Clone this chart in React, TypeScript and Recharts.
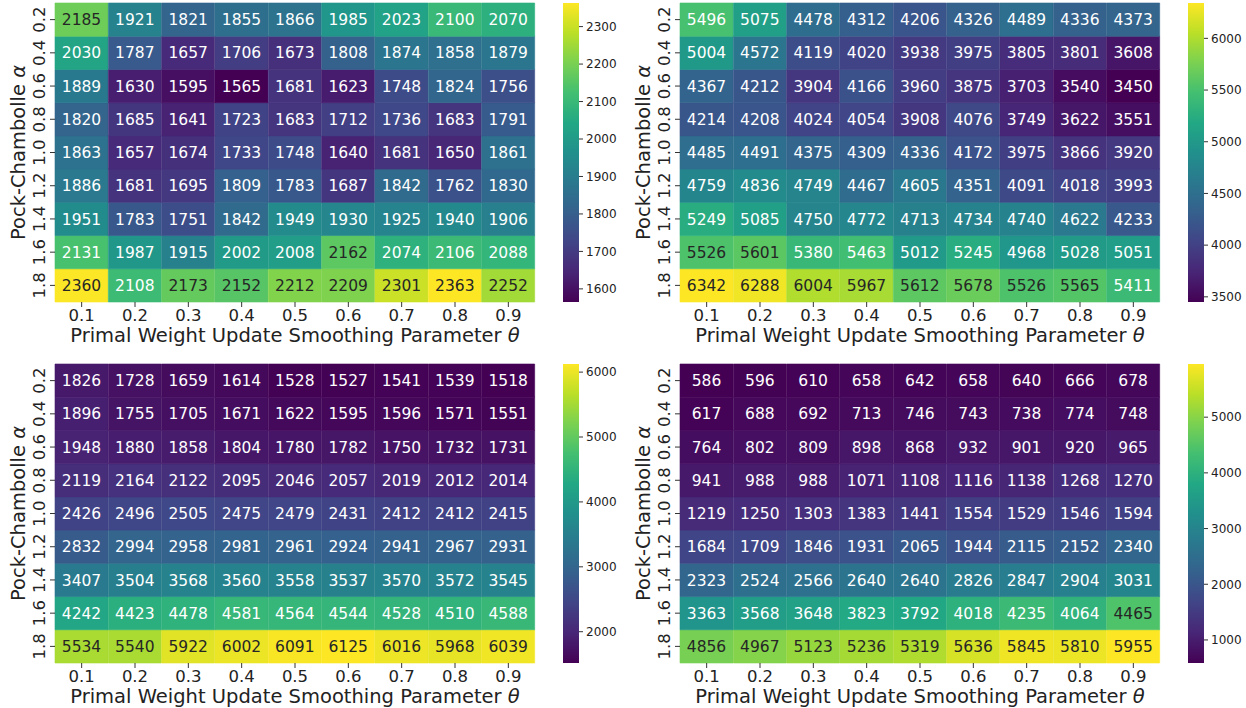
import { BarChart, Bar, XAxis, YAxis, Cell, LabelList, Label } from 'recharts';

// axis categories
const THETA = ['0.1', '0.2', '0.3', '0.4', '0.5', '0.6', '0.7', '0.8', '0.9'];
const ALPHA = ['0.2', '0.4', '0.6', '0.8', '1.0', '1.2', '1.4', '1.6', '1.8'];

// rows = alpha (0.2 .. 1.8), columns = theta (0.1 .. 0.9)
const TOP_LEFT = [
  [2185, 1921, 1821, 1855, 1866, 1985, 2023, 2100, 2070],
  [2030, 1787, 1657, 1706, 1673, 1808, 1874, 1858, 1879],
  [1889, 1630, 1595, 1565, 1681, 1623, 1748, 1824, 1756],
  [1820, 1685, 1641, 1723, 1683, 1712, 1736, 1683, 1791],
  [1863, 1657, 1674, 1733, 1748, 1640, 1681, 1650, 1861],
  [1886, 1681, 1695, 1809, 1783, 1687, 1842, 1762, 1830],
  [1951, 1783, 1751, 1842, 1949, 1930, 1925, 1940, 1906],
  [2131, 1987, 1915, 2002, 2008, 2162, 2074, 2106, 2088],
  [2360, 2108, 2173, 2152, 2212, 2209, 2301, 2363, 2252],
];

const TOP_RIGHT = [
  [5496, 5075, 4478, 4312, 4206, 4326, 4489, 4336, 4373],
  [5004, 4572, 4119, 4020, 3938, 3975, 3805, 3801, 3608],
  [4367, 4212, 3904, 4166, 3960, 3875, 3703, 3540, 3450],
  [4214, 4208, 4024, 4054, 3908, 4076, 3749, 3622, 3551],
  [4485, 4491, 4375, 4309, 4336, 4172, 3975, 3866, 3920],
  [4759, 4836, 4749, 4467, 4605, 4351, 4091, 4018, 3993],
  [5249, 5085, 4750, 4772, 4713, 4734, 4740, 4622, 4233],
  [5526, 5601, 5380, 5463, 5012, 5245, 4968, 5028, 5051],
  [6342, 6288, 6004, 5967, 5612, 5678, 5526, 5565, 5411],
];

const BOTTOM_LEFT = [
  [1826, 1728, 1659, 1614, 1528, 1527, 1541, 1539, 1518],
  [1896, 1755, 1705, 1671, 1622, 1595, 1596, 1571, 1551],
  [1948, 1880, 1858, 1804, 1780, 1782, 1750, 1732, 1731],
  [2119, 2164, 2122, 2095, 2046, 2057, 2019, 2012, 2014],
  [2426, 2496, 2505, 2475, 2479, 2431, 2412, 2412, 2415],
  [2832, 2994, 2958, 2981, 2961, 2924, 2941, 2967, 2931],
  [3407, 3504, 3568, 3560, 3558, 3537, 3570, 3572, 3545],
  [4242, 4423, 4478, 4581, 4564, 4544, 4528, 4510, 4588],
  [5534, 5540, 5922, 6002, 6091, 6125, 6016, 5968, 6039],
];

const BOTTOM_RIGHT = [
  [586, 596, 610, 658, 642, 658, 640, 666, 678],
  [617, 688, 692, 713, 746, 743, 738, 774, 748],
  [764, 802, 809, 898, 868, 932, 901, 920, 965],
  [941, 988, 988, 1071, 1108, 1116, 1138, 1268, 1270],
  [1219, 1250, 1303, 1383, 1441, 1554, 1529, 1546, 1594],
  [1684, 1709, 1846, 1931, 2065, 1944, 2115, 2152, 2340],
  [2323, 2524, 2566, 2640, 2640, 2826, 2847, 2904, 3031],
  [3363, 3568, 3648, 3823, 3792, 4018, 4235, 4064, 4465],
  [4856, 4967, 5123, 5236, 5319, 5636, 5845, 5810, 5955],
];

// colorbar tick labels
const TL_TICKS = [1600, 1700, 1800, 1900, 2000, 2100, 2200, 2300];
const TR_TICKS = [3500, 4000, 4500, 5000, 5500, 6000];
const BL_TICKS = [2000, 3000, 4000, 5000, 6000];
const BR_TICKS = [1000, 2000, 3000, 4000, 5000];

const FONT = '"DejaVu Sans", sans-serif';
const INK = '#222';

// viridis, 11 evenly spaced stops
const VIRIDIS = [
  '#440154', '#482576', '#414487', '#35608d', '#2a788e', '#21908c',
  '#22a884', '#43bf71', '#7ad151', '#bbdf27', '#fde725',
];

function hexToRgb(h: string): number[] {
  return [1, 3, 5].map(i => parseInt(h.slice(i, i + 2), 16));
}

function viridis(t: number): number[] {
  const c = Math.max(0, Math.min(1, t)) * (VIRIDIS.length - 1);
  const i = Math.min(Math.floor(c), VIRIDIS.length - 2);
  const f = c - i;
  const a = hexToRgb(VIRIDIS[i]);
  const b = hexToRgb(VIRIDIS[i + 1]);
  return a.map((v, k) => Math.round(v + (b[k] - v) * f));
}

function rgbStr(c: number[]) {
  return `rgb(${c[0]},${c[1]},${c[2]})`;
}

// seaborn picks dark text on light cells
function textColor(c: number[]) {
  const lin = c.map(v => {
    const s = v / 255;
    return s <= 0.03928 ? s / 12.92 : Math.pow((s + 0.055) / 1.055, 2.4);
  });
  const lum = 0.2126 * lin[0] + 0.7152 * lin[1] + 0.0722 * lin[2];
  return lum > 0.408 ? '#262626' : '#ffffff';
}

// y position (stack units) -> alpha label
const alphaAt = (v: number) => ALPHA[Math.round(ALPHA.length - 0.5 - v)];

const YTick = (props: any) => {
  const { x, y, payload } = props;
  const tx = x - 9;
  return (
    <text x={tx} y={y} transform={`rotate(-90 ${tx} ${y})`} textAnchor="middle" dy="0.36em"
      fontSize={16.5} fill={INK} fontFamily={FONT}>
      {alphaAt(Number(payload.value))}
    </text>
  );
};

interface HeatmapProps {
  values: number[][];
  cbTicks: number[];
  left: number;
  top: number;
  id: string;
}

function Heatmap({ values, cbTicks, left, top, id }: HeatmapProps) {
  const flat = values.flat();
  const vmin = Math.min(...flat);
  const vmax = Math.max(...flat);
  const norm = (v: number) => (v - vmin) / (vmax - vmin);

  const data = THETA.map((t, j) => {
    const row: any = { theta: t };
    ALPHA.forEach((_, i) => {
      row[`r${i}`] = 1;
      row[`v${i}`] = values[i][j];
    });
    return row;
  });
  // stack from the bottom row (alpha 1.8) upwards
  const stackOrder = ALPHA.map((_, i) => ALPHA.length - 1 - i);
  const yTicks = ALPHA.map((_, i) => ALPHA.length - 0.5 - i);

  return (
    <div style={{ position: 'absolute', left, top, width: 650, height: 350 }}>
      <div style={{ position: 'absolute', left: 0, top: 0 }}>
        <BarChart width={560} height={350} data={data} barCategoryGap={0} barGap={0}
          margin={{ top: 3, right: 25, left: 0, bottom: 0 }}>
          <XAxis dataKey="theta" type="category" height={48} interval={0} axisLine={false}
            tickSize={5} tickMargin={2} stroke="#333"
            tick={{ fontSize: 16.5, fill: INK, fontFamily: FONT }}>
            <Label content={(p: any) => {
              const vb = p.viewBox;
              return (
                <text x={vb.x + vb.width / 2} y={vb.y + 40} textAnchor="middle"
                  fontSize={19.5} fill={INK} fontFamily={FONT}>
                  Primal Weight Update Smoothing Parameter <tspan fontStyle="italic">θ</tspan>
                </text>
              );
            }} />
          </XAxis>
          <YAxis type="number" domain={[0, ALPHA.length]} ticks={yTicks} width={55} interval={0}
            axisLine={false} tickSize={5} tickMargin={2} stroke="#333"
            tick={<YTick />}>
            <Label content={(p: any) => {
              const vb = p.viewBox;
              const cx = 18;
              const cy = vb.y + vb.height / 2;
              return (
                <text x={cx} y={cy} transform={`rotate(-90 ${cx} ${cy})`} textAnchor="middle"
                  dy="0.36em" fontSize={19.5} fill={INK} fontFamily={FONT}>
                  Pock-Chambolle <tspan fontStyle="italic">α</tspan>
                </text>
              );
            }} />
          </YAxis>
          {stackOrder.map(i => (
            <Bar key={i} dataKey={`r${i}`} stackId="h" isAnimationActive={false}>
              {data.map((d, j) => {
                const c = rgbStr(viridis(norm(d[`v${i}`])));
                return <Cell key={j} fill={c} stroke={c} strokeWidth={0.6} />;
              })}
              <LabelList dataKey={`v${i}`} content={(p: any) => {
                const col = textColor(viridis(norm(Number(p.value))));
                return (
                  <text x={p.x + p.width / 2} y={p.y + p.height / 2} dy="0.36em" textAnchor="middle"
                    fontSize={15.5} fill={col} fontFamily={FONT}>
                    {p.value}
                  </text>
                );
              }} />
            </Bar>
          ))}
        </BarChart>
      </div>
      <div style={{ position: 'absolute', left: 563, top: 0 }}>
        <BarChart width={80} height={350} data={[{ k: 'cb', range: [vmin, vmax] }]}
          barCategoryGap={0} margin={{ top: 3, right: 0, left: 0, bottom: 48 }}>
          <defs>
            <linearGradient id={`grad-${id}`} x1="0" y1="1" x2="0" y2="0">
              {VIRIDIS.map((c, i) => (
                <stop key={i} offset={`${(i / (VIRIDIS.length - 1)) * 100}%`} stopColor={c} />
              ))}
            </linearGradient>
          </defs>
          <XAxis dataKey="k" hide />
          <YAxis orientation="right" type="number" domain={[vmin, vmax]} ticks={cbTicks} width={64}
            interval={0} axisLine={false} tickSize={4} tickMargin={3} stroke="#333"
            tick={{ fontSize: 12, fill: INK, fontFamily: FONT }} />
          <Bar dataKey="range" fill={`url(#grad-${id})`} isAnimationActive={false} />
        </BarChart>
      </div>
    </div>
  );
}

export default function App() {
  return (
    <div style={{ position: 'absolute', left: 0, top: 0, width: 1246, height: 708, background: '#fff', fontFamily: FONT }}>
      <Heatmap values={TOP_LEFT} cbTicks={TL_TICKS} left={0} top={0} id="tl" />
      <Heatmap values={TOP_RIGHT} cbTicks={TR_TICKS} left={625} top={0} id="tr" />
      <Heatmap values={BOTTOM_LEFT} cbTicks={BL_TICKS} left={0} top={361} id="bl" />
      <Heatmap values={BOTTOM_RIGHT} cbTicks={BR_TICKS} left={625} top={361} id="br" />
    </div>
  );
}
